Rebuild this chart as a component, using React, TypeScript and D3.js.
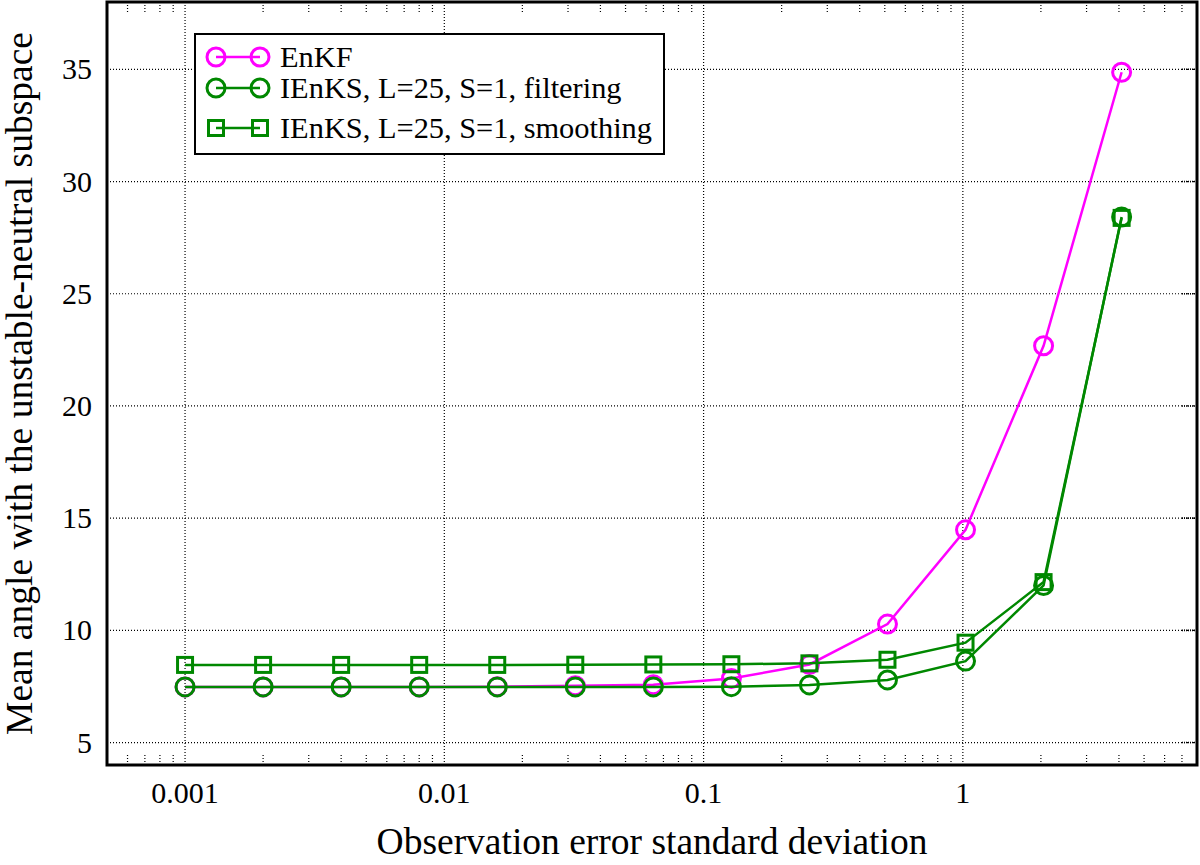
import { useEffect, useRef } from 'react';
import * as d3 from 'd3';

const sigmas = [0.001, 0.002, 0.004, 0.008, 0.016, 0.032, 0.064, 0.128, 0.256, 0.512, 1.024, 2.048, 4.096];
const enkf = [7.48, 7.48, 7.48, 7.48, 7.49, 7.53, 7.58, 7.85, 8.48, 10.28, 14.48, 22.68, 34.87];
const ienksFiltering = [7.48, 7.48, 7.48, 7.48, 7.48, 7.48, 7.48, 7.49, 7.57, 7.79, 8.63, 12.0, 28.42];
const ienksSmoothing = [8.46, 8.46, 8.46, 8.46, 8.46, 8.47, 8.48, 8.49, 8.53, 8.69, 9.45, 12.15, 28.38];

const xTicks = [0.001, 0.01, 0.1, 1];
const xTickLabels = ['0.001', '0.01', '0.1', '1'];
const yTicks = [5, 10, 15, 20, 25, 30, 35];

const seriesNames = ['EnKF', 'IEnKS, L=25, S=1, filtering', 'IEnKS, L=25, S=1, smoothing'];
const seriesColors = ['#ff00ff', '#008800', '#008800'];
const seriesShapes = ['circle', 'circle', 'square'];

const FONT = '"Liberation Serif", "DejaVu Serif", serif';

export default function App() {
  const svgRef = useRef<SVGSVGElement>(null);

  useEffect(() => {
    if (!svgRef.current) return;
    const width = 1200;
    const height = 865;
    const margin = { top: 2, right: 3, bottom: 100, left: 107 };
    const innerW = width - margin.left - margin.right;
    const innerH = height - margin.top - margin.bottom;

    d3.select(svgRef.current).selectAll('*').remove();
    const svg = d3.select(svgRef.current).attr('width', width).attr('height', height);
    const g = svg.append('g').attr('transform', `translate(${margin.left},${margin.top})`);

    const x = d3.scaleLog().domain([0.0005, 8]).range([0, innerW]);
    const y = d3.scaleLinear().domain([4, 38]).range([innerH, 0]);

    // grid (dotted)
    g.append('g')
      .selectAll('line')
      .data(xTicks)
      .join('line')
      .attr('x1', d => x(d)).attr('x2', d => x(d))
      .attr('y1', 0).attr('y2', innerH)
      .attr('stroke', '#000').attr('stroke-width', 1.2).attr('stroke-dasharray', '1,2');
    g.append('g')
      .selectAll('line')
      .data(yTicks)
      .join('line')
      .attr('x1', 0).attr('x2', innerW)
      .attr('y1', d => y(d)).attr('y2', d => y(d))
      .attr('stroke', '#000').attr('stroke-width', 1.2).attr('stroke-dasharray', '1,2');

    // minor x ticks, top and bottom
    const minor: number[] = [];
    for (let e = -4; e <= 0; e++) {
      for (let m = 2; m <= 9; m++) {
        const v = m * Math.pow(10, e);
        if (v > 0.0005 && v < 8) minor.push(v);
      }
    }
    const tickG = g.append('g');
    minor.forEach(v => {
      [[innerH, innerH - 11], [0, 11]].forEach(([a, b]) => {
        tickG.append('line')
          .attr('x1', x(v)).attr('x2', x(v)).attr('y1', a).attr('y2', b)
          .attr('stroke', '#000').attr('stroke-width', 1.2).attr('stroke-dasharray', '1,2');
      });
    });
    // major y ticks on right side
    yTicks.forEach(v => {
      tickG.append('line')
        .attr('x1', innerW).attr('x2', innerW - 16).attr('y1', y(v)).attr('y2', y(v))
        .attr('stroke', '#000').attr('stroke-width', 1.6).attr('stroke-dasharray', '1,1');
    });

    // tick labels
    g.append('g')
      .selectAll('text')
      .data(xTicks)
      .join('text')
      .attr('x', d => x(d))
      .attr('y', innerH + 38)
      .attr('text-anchor', 'middle')
      .style('font-family', FONT).style('font-size', '30px')
      .text((d, i) => xTickLabels[i]);
    g.append('g')
      .selectAll('text')
      .data(yTicks)
      .join('text')
      .attr('x', -15)
      .attr('y', d => y(d) + 10)
      .attr('text-anchor', 'end')
      .style('font-family', FONT).style('font-size', '30px')
      .text(d => String(d));

    // series
    const seriesData = [enkf, ienksFiltering, ienksSmoothing];
    const line = d3.line<number>().x((d, i) => x(sigmas[i])).y(d => y(d));
    const drawMarker = (sel: d3.Selection<SVGGElement, unknown, null, undefined>, cx: number, cy: number, shape: string, color: string) => {
      if (shape === 'circle') {
        sel.append('circle').attr('cx', cx).attr('cy', cy).attr('r', 9)
          .attr('fill', 'none').attr('stroke', color).attr('stroke-width', 3);
      } else {
        sel.append('rect').attr('x', cx - 7.5).attr('y', cy - 7.5).attr('width', 15).attr('height', 15)
          .attr('fill', 'none').attr('stroke', color).attr('stroke-width', 3);
      }
    };
    seriesData.forEach((vals, si) => {
      const sg = g.append('g');
      sg.append('path')
        .datum(vals)
        .attr('d', line)
        .attr('fill', 'none')
        .attr('stroke', seriesColors[si])
        .attr('stroke-width', 2.5);
      vals.forEach((v, i) => drawMarker(sg, x(sigmas[i]), y(v), seriesShapes[si], seriesColors[si]));
    });

    // frame
    g.append('rect')
      .attr('x', 0).attr('y', 0).attr('width', innerW).attr('height', innerH)
      .attr('fill', 'none').attr('stroke', '#000').attr('stroke-width', 3);

    // legend
    const leg = svg.append('g').attr('transform', 'translate(195,34)');
    leg.append('rect').attr('x', 0).attr('y', 0).attr('width', 469).attr('height', 120)
      .attr('fill', '#fff').attr('stroke', '#000').attr('stroke-width', 2);
    const rowY = [23, 54, 94];
    seriesNames.forEach((name, i) => {
      const rg = leg.append('g');
      rg.append('line').attr('x1', 21).attr('x2', 65).attr('y1', rowY[i]).attr('y2', rowY[i])
        .attr('stroke', seriesColors[i]).attr('stroke-width', 2.5);
      drawMarker(rg, 21, rowY[i], seriesShapes[i], seriesColors[i]);
      drawMarker(rg, 65, rowY[i], seriesShapes[i], seriesColors[i]);
      rg.append('text').attr('x', 85).attr('y', rowY[i] + 10)
        .style('font-family', FONT).style('font-size', '30.4px').text(name);
    });

    // axis titles
    svg.append('text')
      .attr('x', margin.left + innerW / 2)
      .attr('y', 854)
      .attr('text-anchor', 'middle')
      .style('font-family', FONT).style('font-size', '37.5px')
      .text('Observation error standard deviation');
    svg.append('text')
      .attr('transform', 'rotate(-90)')
      .attr('x', -(margin.top + innerH / 2))
      .attr('y', 32)
      .attr('text-anchor', 'middle')
      .style('font-family', FONT).style('font-size', '37.5px')
      .text('Mean angle with the unstable-neutral subspace');
  }, []);

  return (
    <div style={{ position: 'absolute', left: 0, top: 0 }}>
      <svg ref={svgRef}></svg>
    </div>
  );
}
